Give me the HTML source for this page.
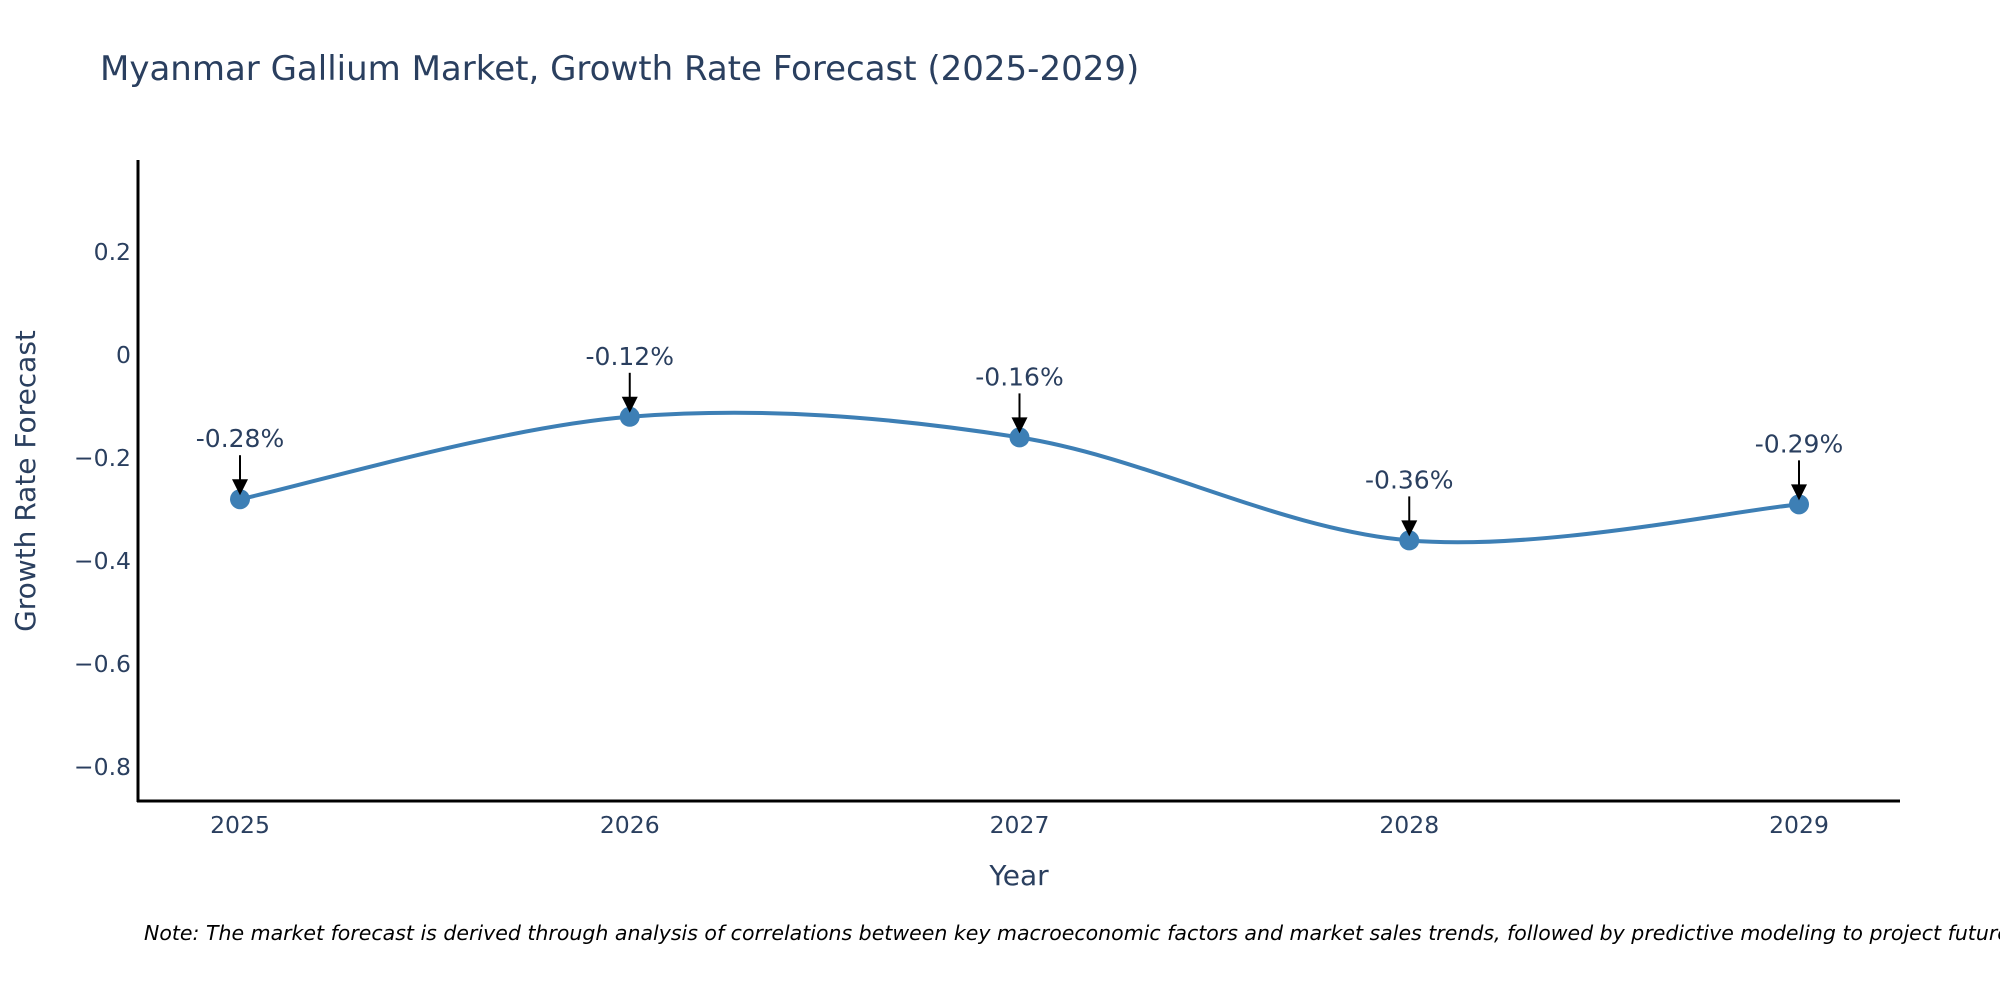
<!DOCTYPE html>
<html><head><meta charset="utf-8"><style>
html,body{margin:0;padding:0;background:#fff;}
svg text{font-family:"DejaVu Sans","Liberation Sans",sans-serif;fill:#2a3f5f;}
</style></head><body>
<svg id="chart" width="2000" height="1000" viewBox="0 0 2000 1000" xmlns="http://www.w3.org/2000/svg">
<text x="100" y="80" font-size="34">Myanmar Gallium Market, Growth Rate Forecast (2025-2029)</text>
<g id="yticks"></g>
<g id="xticks"></g>
<line x1="138" y1="160" x2="138" y2="802" stroke="#000" stroke-width="3"/>
<line x1="137" y1="801" x2="1900" y2="801" stroke="#000" stroke-width="3"/>
<path id="line" fill="none" stroke="#3d7fb5" stroke-width="4"/>
<g id="points"></g>
<g id="annots"></g>
<text x="1019" y="885" font-size="28" text-anchor="middle">Year</text>
<text transform="translate(35,481) rotate(-90)" font-size="28" text-anchor="middle">Growth Rate Forecast</text>
<text x="144" y="940" font-size="20.5" font-style="italic" style="fill:#000">Note: The market forecast is derived through analysis of correlations between key macroeconomic factors and market sales trends, followed by predictive modeling to project future sales</text>
</svg>
<script>
const years = [2025, 2026, 2027, 2028, 2029];
const growth = [-0.28, -0.12, -0.16, -0.36, -0.29];
const labels = ["-0.28%", "-0.12%", "-0.16%", "-0.36%", "-0.29%"];
const yTickVals = [0.2, 0, -0.2, -0.4, -0.6, -0.8];
const yTickLabels = ["0.2", "0", "\u22120.2", "\u22120.4", "\u22120.6", "\u22120.8"];

const NS = "http://www.w3.org/2000/svg";
const xScale = v => 240 + (v - 2025) * 389.75;
const yScale = v => 355 - v * 515;
function mk(tag, attrs, parent) {
  const e = document.createElementNS(NS, tag);
  for (const k in attrs) e.setAttribute(k, attrs[k]);
  parent.appendChild(e);
  return e;
}
const yt = document.getElementById('yticks');
yTickVals.forEach((v, i) => {
  const t = mk('text', {x: 131, y: yScale(v) + 8, 'font-size': 23.5, 'text-anchor': 'end'}, yt);
  
  
  t.textContent = yTickLabels[i];
});
const xt = document.getElementById('xticks');
years.forEach(y => {
  const t = mk('text', {x: xScale(y), y: 833, 'font-size': 23.5, 'text-anchor': 'middle'}, xt);
  
  
  t.textContent = String(y);
});
const pts = years.map((y, i) => [xScale(y), yScale(growth[i])]);
let d = `M${pts[0][0]},${pts[0][1]}`;
const s = 1 / 6;
for (let i = 0; i < pts.length - 1; i++) {
  const p0 = pts[Math.max(0, i - 1)], p1 = pts[i], p2 = pts[i + 1], p3 = pts[Math.min(pts.length - 1, i + 2)];
  const c1 = [p1[0] + (p2[0] - p0[0]) * s, p1[1] + (p2[1] - p0[1]) * s];
  const c2 = [p2[0] - (p3[0] - p1[0]) * s, p2[1] - (p3[1] - p1[1]) * s];
  d += ` C${c1[0]},${c1[1]} ${c2[0]},${c2[1]} ${p2[0]},${p2[1]}`;
}
document.getElementById('line').setAttribute('d', d);
const pg = document.getElementById('points');
const ag = document.getElementById('annots');
pts.forEach((p, i) => {
  const c = mk('circle', {cx: p[0], cy: p[1], r: 10, fill: '#3d7fb5'}, pg);
  
  
  const l = mk('line', {x1: p[0], y1: p[1] - 44, x2: p[0], y2: p[1] - 16, stroke: '#000', 'stroke-width': 2}, ag);
  
  
  const h = mk('polygon', {points: `${p[0]-8},${p[1]-20} ${p[0]+8},${p[1]-20} ${p[0]},${p[1]-4}`, fill: '#000'}, ag);
  
  
  const t = mk('text', {x: p[0], y: p[1] - 52, 'font-size': 25, 'text-anchor': 'middle'}, ag);
  
  
  t.textContent = labels[i];
});
</script>
</body></html>
